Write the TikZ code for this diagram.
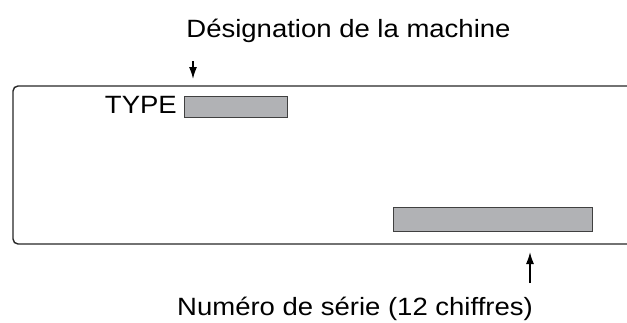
\documentclass[tikz,border=0pt]{standalone}
\usepackage{fontspec}
\setmainfont{Liberation Sans}[FakeStretch=1.1]
\usetikzlibrary{arrows.meta,positioning}
\definecolor{fieldgray}{RGB}{177,178,181}

\begin{document}
\begin{tikzpicture}[x=1pt,y=-1pt,
  field/.style={draw=black!75,line width=1pt,fill=fieldgray,inner sep=0pt},
  caption/.style={font=\fontsize{25}{30}\selectfont,inner sep=0pt},
  pointer/.style={line width=1.5pt,-{Latex[length=12pt,width=8pt]}}]
\useasboundingbox (0,0) rectangle (627,322);
% plate, open on the right
\draw[line width=1.4pt,black!85,rounded corners=5pt]
  (627,86) -- (13,86) -- (13,244) -- (627,244);
\node[field,minimum width=103pt,minimum height=21pt] (typebox) at (235.5,106.5) {};
\node[field,minimum width=199pt,minimum height=24pt] (serialbox) at (492.5,219) {};
\node[caption,anchor=base east] (type) at (177,113) {TYPE};
\node[caption,anchor=base] (title) at (348.5,37) {Désignation de la machine};
\node[caption,anchor=base] (serial) at (355,315) {Numéro de série (12 chiffres)};
\coordinate (downstart) at (193,61);
\coordinate (downend) at (193,79);
\coordinate (upstart) at (530,283);
\coordinate (upend) at (530,252);
\draw[pointer] (downstart) -- (downend);
\draw[pointer] (upstart) -- (upend);
\end{tikzpicture}
\end{document}
